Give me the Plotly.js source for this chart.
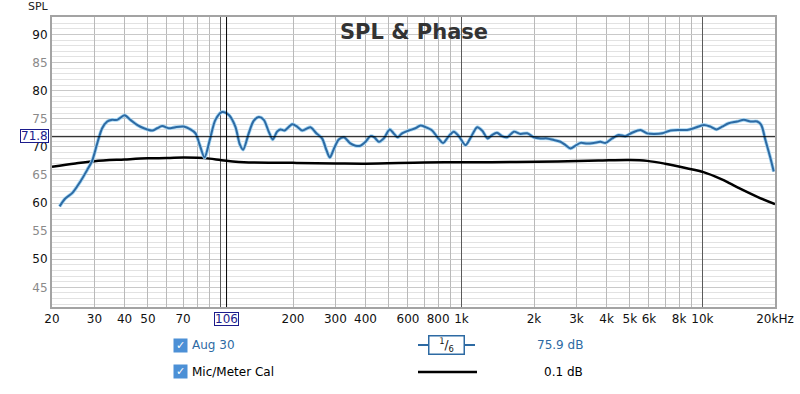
<!DOCTYPE html>
<html>
<head>
<meta charset="utf-8">
<script src="https://cdn.plot.ly/plotly-3.0.1.min.js"></script>
<style>html,body{margin:0;padding:0;background:#fff;}#chart{width:800px;height:394px;}</style>
</head>
<body>
<div id="chart"></div>
<script>
// ---- Data ----
var blueFreq = [21.5,22.7,24.3,26.2,28,29.4,30.8,32.3,33.9,35.5,37.3,40,42.3,45.1,48.1,52.1,54.6,57.3,61,65,70.4,75.1,78.8,82.1,85.9,90.3,95.3,101.6,108.2,115.3,120.2,124.2,131,137.3,144.2,151.3,158.6,164.8,171.8,177.4,184.4,198.5,208,218.3,236.2,250,264,275.3,284.3,295.3,309.6,325,346,363,381,400,419,435,454,476,504,523,544,567,604,644,676,710,756,792,839,886,929,975,1040,1097,1162,1218,1284,1339,1405,1474,1547,1649,1757,1874,1996,2128,2269,2418,2576,2703,2833,2972,3117,3321,3540,3773,3962,4220,4495,4790,5104,5528,5896,6285,6807,7368,7977,8640,9207,10135,10800,11432,12070,12860,13930,14850,15830,16880,17530,18250,19140,19760];
var blueSPL = [59.4,60.8,61.8,63.8,65.9,67.6,70.6,73.3,74.5,74.8,74.8,75.6,74.8,73.9,73.3,72.9,73.3,73.7,73.3,73.5,73.6,73.1,72.4,70.3,68.1,71.2,74.8,76.2,75.7,73.6,70.5,69.5,72.4,74.6,75.3,74.8,72.7,71.3,72.7,73.1,72.9,74.0,73.6,72.9,73.5,72.4,71.5,69.4,68.1,69.6,71.3,71.7,70.6,70.2,70.2,70.9,71.9,71.7,70.9,71.5,73.1,72.4,71.7,72.4,72.9,73.3,73.8,73.5,72.9,71.8,70.7,71.9,72.7,71.9,70.3,71.8,73.5,72.9,71.5,72.1,72.5,71.9,71.7,72.7,72.3,72.4,71.7,71.5,71.5,71.2,70.9,70.3,69.7,70.2,70.7,70.6,70.7,70.9,70.7,71.5,72.1,71.9,72.5,73.0,72.4,72.3,72.4,72.9,73.0,73.0,73.3,73.9,73.6,73.1,73.6,74.2,74.5,74.8,74.5,74.5,73.9,71.2,68.0,65.6];

var calFreq = [20,25,30,40,50,60,70,80,90,100,110,125,200,300,400,700,1000,1600,2500,3700,5000,5900,7000,8600,10100,11900,13000,14400,16900,20000];
var calSPL  = [66.45,67.05,67.45,67.75,67.95,68.0,68.1,68.05,67.9,67.65,67.45,67.25,67.15,67.05,67.0,67.2,67.25,67.3,67.4,67.55,67.65,67.5,67.0,66.2,65.5,64.3,63.5,62.5,61.1,59.8];

var xGridVals = [20,30,40,50,60,70,80,90,100,200,300,400,500,600,700,800,900,1000,2000,3000,4000,5000,6000,7000,8000,9000,10000,20000];
var xGridText = ['20','30','40','50','','70','','','','200','300','400','','600','','800','','1k','2k','3k','4k','5k','6k','','8k','','10k','20kHz'];
var decadeVals = [100,1000,10000];
var yTickVals = [45,50,55,60,65,70,75,80,85,90];
var yTickText = ['45','50','55','60','65','70','75','80','85','90'];

var cursorFreq = 106;
var cursorSPL = 71.8;

var seriesNames = ['Aug 30','Mic/Meter Cal'];
var seriesValues = ['75.9 dB','0.1 dB'];
var smoothingLabel = '<sup>1</sup>/<sub>6</sub>';

var blueDark = '#2d6aa3';
var blueHalo = '#a6d6f3';

var yText = yTickText.map(function(t){ return (+t % 10 === 0) ? t : '<span style="color:#8a8a8a">'+t+'</span>'; });

var traces = [
  {x: calFreq, y: calSPL, type:'scatter', mode:'lines', line:{color:'#000', width:2.5, shape:'spline', smoothing:1}, hoverinfo:'skip', showlegend:false},
  {x: blueFreq, y: blueSPL, type:'scatter', mode:'lines', line:{color:blueHalo, width:3.6, shape:'spline', smoothing:0.8}, hoverinfo:'skip', showlegend:false},
  {x: blueFreq, y: blueSPL, type:'scatter', mode:'lines', line:{color:blueDark, width:2, shape:'spline', smoothing:0.8}, hoverinfo:'skip', showlegend:false},
  {x: [], y: [], xaxis:'x2', type:'scatter', mode:'lines', hoverinfo:'skip', showlegend:false}
];

var xr = [Math.log10(20), Math.log10(20000)];
var font = 'DejaVu Sans, Verdana, sans-serif';

function py(p){ return (307 - p) / 290; }
function px(p){ return (p - 52) / 723; }

var annotations = [
  {text:'SPL & Phase', xref:'paper', yref:'paper', x:0.5, y:py(32), xanchor:'center', yanchor:'middle', showarrow:false, font:{family:font, size:21, color:'#333', weight:'bold'}},
  {text:'SPL', xref:'paper', yref:'paper', x:px(38), y:py(7), xanchor:'center', yanchor:'middle', showarrow:false, font:{family:font, size:11, color:'#222'}},
  {text:String(cursorSPL), xref:'paper', yref:'y', x:0, y:cursorSPL, xanchor:'right', yanchor:'middle', xshift:-3, yshift:1, showarrow:false,
   font:{family:font, size:12, color:'#1c1c8c'}, bordercolor:'#1c1c8c', borderwidth:1, borderpad:0, bgcolor:'#fff', height:12},
  {text:String(cursorFreq), xref:'x', yref:'paper', x:Math.log10(cursorFreq), y:0, xanchor:'center', yanchor:'top', yshift:-5, showarrow:false,
   font:{family:font, size:12, color:'#1c1c8c'}, bordercolor:'#1c1c8c', borderwidth:1, borderpad:0, bgcolor:'#fff', height:12}
];

var rows = [py(345), py(372)];
var rowColors = [blueDark, '#000'];
for (var i = 0; i < 2; i++) {
  annotations.push({text:'✓', xref:'paper', yref:'paper', x:px(180), y:rows[i], xanchor:'center', yanchor:'middle', showarrow:false,
    font:{family:font, size:11, color:'#fff', weight:'bold'}, bgcolor:'#4c90d6', width:13, height:13, borderpad:0});
  annotations.push({text:seriesNames[i], xref:'paper', yref:'paper', x:px(190), y:rows[i], xanchor:'left', yanchor:'middle', showarrow:false,
    font:{family:font, size:12, color:rowColors[i]}});
  annotations.push({text:seriesValues[i], xref:'paper', yref:'paper', x:px(585), y:rows[i], xanchor:'right', yanchor:'middle', showarrow:false,
    font:{family:font, size:12, color:rowColors[i]}});
}
annotations.push({text:smoothingLabel, xref:'paper', yref:'paper', x:px(446.5), y:rows[0], xanchor:'center', yanchor:'middle', showarrow:false,
  font:{family:font, size:12, color:'#111'}, bgcolor:'#fff', bordercolor:blueDark, borderwidth:1.5, borderpad:1, width:32, height:15});

var shapes = [
  {type:'line', xref:'x', yref:'paper', x0:cursorFreq, x1:cursorFreq, y0:0, y1:1, line:{color:'#000', width:1}},
  {type:'line', xref:'paper', yref:'y', x0:0, x1:1, y0:cursorSPL, y1:cursorSPL, line:{color:'#000', width:1}},
  {type:'line', xref:'paper', yref:'paper', x0:px(418), x1:px(475), y0:rows[0], y1:rows[0], line:{color:blueDark, width:2}},
  {type:'line', xref:'paper', yref:'paper', x0:px(418), x1:px(477), y0:rows[1], y1:rows[1], line:{color:'#000', width:2.5}}
];

var layout = {
  width:800, height:394,
  margin:{l:52, r:25, t:17, b:87, pad:0},
  paper_bgcolor:'#fff', plot_bgcolor:'#fff',
  showlegend:false,
  font:{family:font, size:12, color:'#000'},
  xaxis:{type:'log', range:xr, tickmode:'array', tickvals:xGridVals, ticktext:xGridText, showgrid:true, gridcolor:'#b9b9b9', gridwidth:1,
         ticks:'', tickfont:{family:font, size:12, color:'#111'}, showline:true, mirror:true, linecolor:'#a3a3a3', linewidth:2, zeroline:false, fixedrange:true},
  xaxis2:{type:'log', range:xr, overlaying:'x', tickmode:'array', tickvals:decadeVals, showticklabels:false, showgrid:true, gridcolor:'#5a5a5a', gridwidth:1, ticks:'', showline:false, zeroline:false},
  yaxis:{range:[41.5,93.1], tickmode:'array', tickvals:yTickVals, ticktext:yText, showgrid:true, gridcolor:'#c9c9c9', gridwidth:1,
         minor:{dtick:1, showgrid:true, gridcolor:'#e2e2e2', gridwidth:1},
         ticks:'', tickfont:{family:font, size:12, color:'#111'}, showline:true, mirror:true, linecolor:'#a3a3a3', linewidth:2, zeroline:false, fixedrange:true},
  annotations:annotations,
  shapes:shapes
};

Plotly.newPlot('chart', traces, layout, {staticPlot:true, displayModeBar:false});
</script>
</body>
</html>
